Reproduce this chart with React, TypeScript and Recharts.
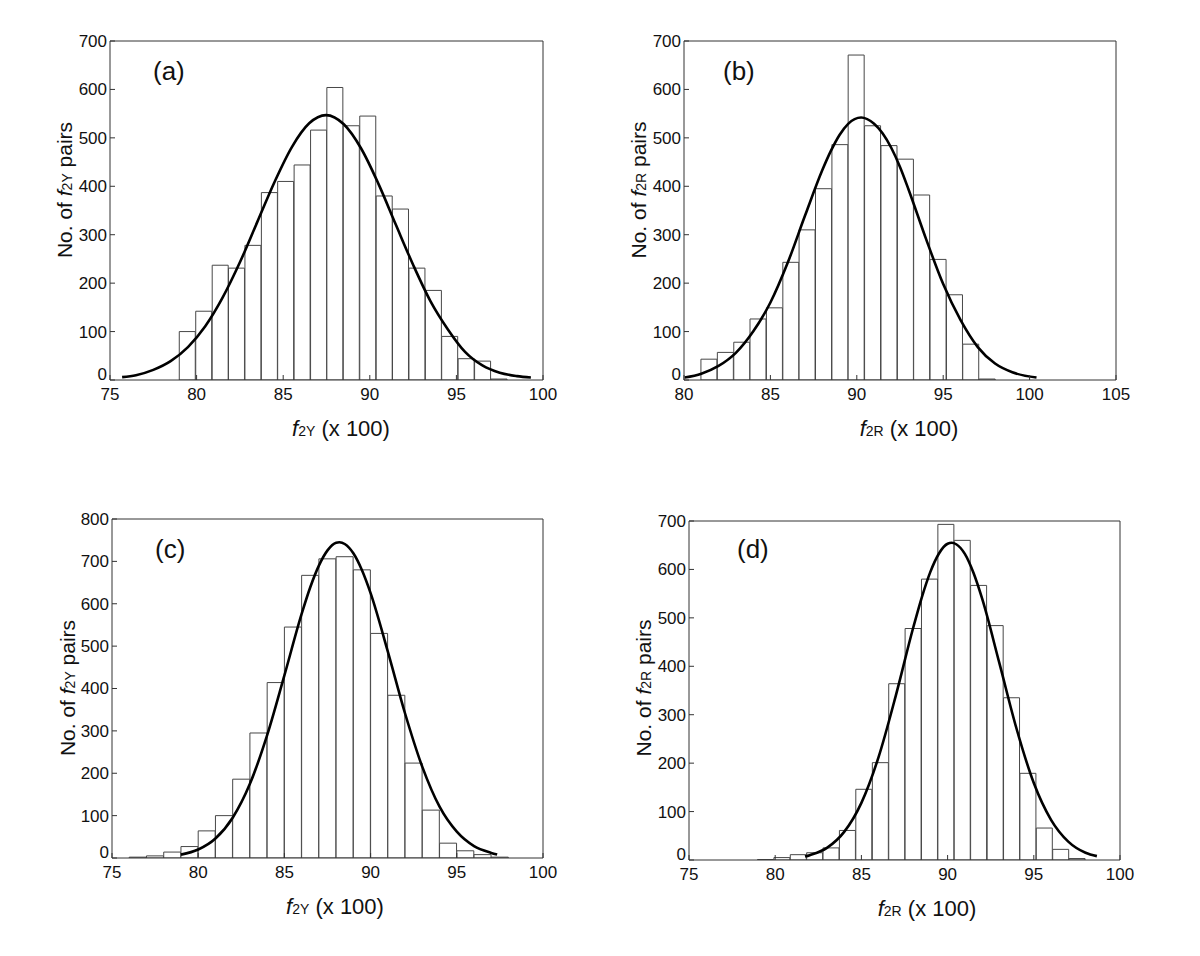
import React from 'react';
import { ComposedChart, Bar, Line, XAxis, YAxis } from 'recharts';

// ---------- Panel (a): f2Y histogram ----------
const binCentersA = [79.47, 80.42, 81.37, 82.31, 83.26, 84.21, 85.15, 86.10, 87.05, 87.99, 88.94, 89.89, 90.84, 91.78, 92.73, 93.68, 94.62, 95.57, 96.52, 97.47];
const countsA = [100, 142, 237, 231, 278, 387, 410, 444, 516, 604, 525, 545, 380, 353, 231, 185, 90, 44, 39, 2];
const curveXA = [75.7, 76.5, 77.5, 78.5, 79.5, 80.5, 81.5, 82.5, 83.5, 84.5, 85.5, 86.5, 87.47, 88.5, 89.5, 90.5, 91.5, 92.5, 93.5, 94.5, 95.5, 96.5, 97.5, 98.5, 99.3];
const curveYA = [6, 10, 21, 39, 68, 111, 170, 243, 326, 409, 481, 530, 547, 528, 478, 405, 321, 238, 163, 105, 58, 30, 15, 8, 5];

// ---------- Panel (b): f2R histogram ----------
const binCentersB = [81.45, 82.40, 83.35, 84.29, 85.24, 86.19, 87.13, 88.08, 89.03, 89.97, 90.92, 91.87, 92.82, 93.76, 94.71, 95.66, 96.60, 97.55];
const countsB = [43, 57, 78, 126, 149, 243, 310, 395, 486, 671, 525, 484, 456, 382, 249, 176, 74, 2];
const curveXB = [80.04, 81, 82, 83, 84, 85, 86, 87, 88, 88.5, 89, 89.5, 90.25, 91, 91.5, 92, 92.5, 93, 94, 95, 96, 97, 98, 99, 100.4];
const curveYB = [5, 13, 29, 56, 100, 160, 242, 339, 433, 473, 506, 529, 542, 529, 509, 479, 440, 393, 292, 198, 124, 68, 34, 16, 5];

// ---------- Panel (c): f2Y histogram ----------
const binCentersC = [76.5, 77.5, 78.5, 79.5, 80.5, 81.5, 82.5, 83.5, 84.5, 85.5, 86.5, 87.5, 88.5, 89.5, 90.5, 91.5, 92.5, 93.5, 94.5, 95.5, 96.5, 97.5];
const countsC = [2, 5, 14, 27, 64, 100, 186, 295, 414, 545, 667, 706, 711, 680, 530, 384, 224, 113, 35, 17, 8, 2];
const curveXC = [79.0, 80, 81, 82, 83, 84, 85, 86, 86.5, 87, 87.5, 88, 88.19, 88.5, 89, 89.5, 90, 91, 92, 93, 94, 95, 96, 97, 97.34];
const curveYC = [8, 20, 46, 95, 175, 290, 431, 576, 639, 690, 726, 744, 745, 741, 719, 679, 625, 487, 341, 215, 121, 62, 28, 12, 8];

// ---------- Panel (d): f2R histogram ----------
const binCentersD = [79.45, 80.40, 81.35, 82.30, 83.25, 84.20, 85.15, 86.11, 87.06, 88.01, 88.96, 89.91, 90.86, 91.81, 92.77, 93.72, 94.67, 95.62, 96.57, 97.52];
const countsD = [1, 5, 11, 15, 25, 61, 146, 201, 364, 478, 580, 693, 660, 567, 484, 335, 179, 66, 22, 3];
const curveXD = [81.73, 82, 83, 84, 85, 86, 87, 88, 88.5, 89, 89.5, 90, 90.24, 90.5, 91, 91.5, 92, 93, 94, 95, 96, 97, 98, 98.66];
const curveYD = [7, 10, 25, 58, 118, 213, 340, 479, 542, 595, 633, 653, 655, 652, 632, 593, 540, 407, 271, 159, 83, 38, 15, 8];

// ---------- Ticks ----------
const xTicks75 = [75, 80, 85, 90, 95, 100];
const xTicks80 = [80, 85, 90, 95, 100, 105];
const yTicks700 = [0, 100, 200, 300, 400, 500, 600, 700];
const yTicks800 = [0, 100, 200, 300, 400, 500, 600, 700, 800];

const FONT = '"Liberation Sans", Arial, Helvetica, sans-serif';
const M_LEFT = 90;
const M_TOP = 30;
const M_RIGHT = 30;
const M_BOTTOM = 70;
const AXIS = '#333';
const TICK_FS = 17;

function YTick(props: any) {
  const { x, y, payload } = props;
  const lift = payload && payload.value === 0 ? -6 : 0;
  return (
    <text x={x} y={y + lift} dy="0.35em" textAnchor="end" fontSize={TICK_FS} fontFamily={FONT} fill="#111">
      {payload ? payload.value : ''}
    </text>
  );
}

type PanelProps = {
  plotLeft: number;
  plotTop: number;
  plotW: number;
  plotH: number;
  xDomain: [number, number];
  xTicks: number[];
  yDomain: [number, number];
  yTicks: number[];
  centers: number[];
  counts: number[];
  cx: number[];
  cy: number[];
};

function Panel(p: PanelProps) {
  const bins = p.centers.map((x, i) => ({ x, n: p.counts[i] }));
  const curve = p.cx.map((x, i) => ({ x, y: p.cy[i] }));
  const width = p.plotW + M_LEFT + M_RIGHT;
  const height = p.plotH + M_TOP + M_BOTTOM;
  const tickStyle = { fontSize: TICK_FS, fill: '#111', fontFamily: FONT };
  return (
    <div style={{ position: 'absolute', left: p.plotLeft - M_LEFT, top: p.plotTop - M_TOP, width, height }}>
      <ComposedChart
        width={width}
        height={height}
        data={bins}
        margin={{ top: M_TOP - 1, right: M_RIGHT - 1, left: 0, bottom: 0 }}
        barCategoryGap={0}
        barGap={0}
      >
        <XAxis
          xAxisId="bottom"
          dataKey="x"
          type="number"
          domain={p.xDomain}
          ticks={p.xTicks}
          allowDataOverflow
          interval={0}
          height={M_BOTTOM}
          tickSize={-5}
          tickMargin={13}
          stroke={AXIS}
          tick={tickStyle}
        />
        <XAxis
          xAxisId="top"
          orientation="top"
          dataKey="x"
          type="number"
          domain={p.xDomain}
          ticks={p.xTicks}
          allowDataOverflow
          interval={0}
          height={1}
          tickSize={-5}
          tick={false}
          stroke={AXIS}
        />
        <YAxis
          yAxisId="left"
          type="number"
          domain={p.yDomain}
          ticks={p.yTicks}
          allowDataOverflow
          interval={0}
          width={M_LEFT}
          tickSize={-5}
          tickMargin={8}
          stroke={AXIS}
          tick={<YTick />}
        />
        <YAxis
          yAxisId="right"
          orientation="right"
          type="number"
          domain={p.yDomain}
          ticks={p.yTicks}
          allowDataOverflow
          interval={0}
          width={1}
          tickSize={-5}
          tick={false}
          stroke={AXIS}
        />
        <Bar
          xAxisId="bottom"
          yAxisId="left"
          dataKey="n"
          fill="#ffffff"
          stroke="#474747"
          strokeWidth={1}
          isAnimationActive={false}
        />
        <Line
          xAxisId="top"
          yAxisId="left"
          data={curve}
          dataKey="y"
          type="monotone"
          stroke="#000000"
          strokeWidth={2.6}
          dot={false}
          activeDot={false}
          isAnimationActive={false}
        />
      </ComposedChart>
    </div>
  );
}

function XTitle({ cx, y, sub }: { cx: number; y: number; sub: string }) {
  return (
    <text x={cx} y={y} textAnchor="middle" fontSize={22} fontFamily={FONT} fill="#111">
      <tspan fontStyle="italic">f</tspan>
      <tspan fontSize={14}>{sub}</tspan>
      <tspan>{' (x 100)'}</tspan>
    </text>
  );
}

function YTitle({ x, cy, sub }: { x: number; cy: number; sub: string }) {
  return (
    <text transform={`translate(${x},${cy}) rotate(-90)`} textAnchor="middle" fontSize={21} fontFamily={FONT} fill="#111">
      <tspan>{'No. of '}</tspan>
      <tspan fontStyle="italic">f</tspan>
      <tspan fontSize={14}>{sub}</tspan>
      <tspan>{' pairs'}</tspan>
    </text>
  );
}

function PanelLabel({ x, y, text }: { x: number; y: number; text: string }) {
  return (
    <text x={x} y={y} fontSize={26} fontFamily={FONT} fill="#111">
      {text}
    </text>
  );
}

export default function App() {
  return (
    <div style={{ position: 'absolute', left: 0, top: 0, width: 1200, height: 956, background: '#fff', overflow: 'hidden' }}>
      <Panel plotLeft={110} plotTop={41} plotW={433} plotH={339} xDomain={[75, 100]} xTicks={xTicks75} yDomain={[0, 700]} yTicks={yTicks700} centers={binCentersA} counts={countsA} cx={curveXA} cy={curveYA} />
      <Panel plotLeft={684} plotTop={41} plotW={432} plotH={339} xDomain={[80, 105]} xTicks={xTicks80} yDomain={[0, 700]} yTicks={yTicks700} centers={binCentersB} counts={countsB} cx={curveXB} cy={curveYB} />
      <Panel plotLeft={112} plotTop={519} plotW={431} plotH={339} xDomain={[75, 100]} xTicks={xTicks75} yDomain={[0, 800]} yTicks={yTicks800} centers={binCentersC} counts={countsC} cx={curveXC} cy={curveYC} />
      <Panel plotLeft={689} plotTop={521} plotW={431} plotH={339} xDomain={[75, 100]} xTicks={xTicks75} yDomain={[0, 700]} yTicks={yTicks700} centers={binCentersD} counts={countsD} cx={curveXD} cy={curveYD} />
      <svg width={1200} height={956} style={{ position: 'absolute', left: 0, top: 0, pointerEvents: 'none' }}>
        <PanelLabel x={153} y={80} text="(a)" />
        <PanelLabel x={723} y={80} text="(b)" />
        <PanelLabel x={155} y={558} text="(c)" />
        <PanelLabel x={737} y={558} text="(d)" />
        <XTitle cx={341} y={436} sub="2Y" />
        <XTitle cx={909} y={436} sub="2R" />
        <XTitle cx={335} y={914} sub="2Y" />
        <XTitle cx={927} y={916} sub="2R" />
        <YTitle x={72} cy={190} sub="2Y" />
        <YTitle x={646} cy={190} sub="2R" />
        <YTitle x={75} cy={688} sub="2Y" />
        <YTitle x={651} cy={688} sub="2R" />
      </svg>
    </div>
  );
}
